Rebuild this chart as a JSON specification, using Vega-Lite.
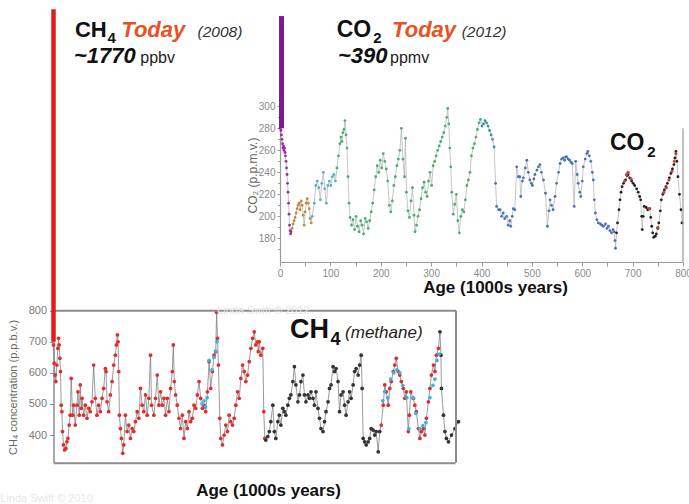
{
  "$schema": "https://vega.github.io/schema/vega-lite/v6.json",
  "width": 689,
  "height": 504,
  "padding": 0,
  "autosize": {"type": "none"},
  "background": "#ffffff",
  "config": {"view": {"stroke": null}, "font": "Liberation Sans", "axis": {"grid": false}},
  "datasets": {
    "co2": [
      {"age":0,"v":280,"s":"p"},{"age":2,"v":278,"s":"p"},{"age":3,"v":274,"s":"p"},{"age":4,"v":270,"s":"p"},{"age":5,"v":266,"s":"p"},{"age":6,"v":262,"s":"p"},{"age":7,"v":264,"s":"p"},{"age":8,"v":260,"s":"p"},{"age":9,"v":262,"s":"p"},{"age":10,"v":258,"s":"p"},{"age":11,"v":255,"s":"p"},{"age":12,"v":250,"s":"p"},{"age":13,"v":244,"s":"p"},{"age":14,"v":238,"s":"p"},{"age":15,"v":230,"s":"p"},{"age":16,"v":222,"s":"p"},{"age":17,"v":212,"s":"p"},{"age":18,"v":202,"s":"p"},{"age":19,"v":192,"s":"p"},{"age":20,"v":187,"s":"p"},{"age":21,"v":184,"s":"p"},{"age":22,"v":186,"s":"p"},
      {"age":24,"v":189,"s":"o"},{"age":26,"v":193,"s":"o"},{"age":28,"v":196,"s":"o"},{"age":30,"v":199,"s":"o"},{"age":32,"v":203,"s":"o"},{"age":34,"v":207,"s":"o"},{"age":36,"v":210,"s":"o"},{"age":38,"v":212,"s":"o"},{"age":40,"v":206,"s":"o"},{"age":42,"v":214,"s":"o"},{"age":44,"v":210,"s":"o"},{"age":46,"v":201,"s":"o"},{"age":48,"v":192,"s":"o"},{"age":50,"v":204,"s":"o"},{"age":52,"v":212,"s":"o"},{"age":54,"v":216,"s":"o"},{"age":56,"v":212,"s":"o"},{"age":58,"v":207,"s":"o"},{"age":60,"v":198,"s":"o"},{"age":62,"v":194,"s":"o"},
      {"age":64,"v":200,"s":"c"},{"age":68,"v":212,"s":"c"},{"age":71,"v":228,"s":"c"},{"age":74,"v":232,"s":"c"},{"age":77,"v":226,"s":"c"},{"age":80,"v":215,"s":"c"},{"age":83,"v":230,"s":"c"},{"age":86,"v":240,"s":"c"},{"age":89,"v":225,"s":"c"},{"age":92,"v":212,"s":"c"},{"age":95,"v":228,"s":"c"},{"age":98,"v":232,"s":"c"},{"age":101,"v":228,"s":"c"},{"age":104,"v":236,"s":"c"},{"age":107,"v":238,"s":"c"},{"age":110,"v":232,"s":"c"},
      {"age":113,"v":244,"s":"g"},{"age":116,"v":255,"s":"g"},{"age":119,"v":266,"s":"g"},{"age":121,"v":272,"s":"g"},{"age":123,"v":268,"s":"g"},{"age":125,"v":276,"s":"g"},{"age":127,"v":279,"s":"g"},{"age":129,"v":287,"s":"g"},{"age":131,"v":274,"s":"g"},{"age":133,"v":262,"s":"g"},{"age":135,"v":236,"s":"g"},{"age":137,"v":212,"s":"g"},{"age":139,"v":199,"s":"g"},{"age":142,"v":192,"s":"g"},{"age":145,"v":197,"s":"g"},{"age":148,"v":188,"s":"g"},{"age":151,"v":200,"s":"g"},{"age":154,"v":191,"s":"g"},{"age":157,"v":186,"s":"g"},{"age":160,"v":196,"s":"g"},{"age":163,"v":192,"s":"g"},{"age":166,"v":184,"s":"g"},{"age":169,"v":198,"s":"g"},{"age":172,"v":195,"s":"g"},{"age":175,"v":189,"s":"g"},{"age":178,"v":196,"s":"g"},{"age":181,"v":204,"s":"g"},{"age":184,"v":212,"s":"g"},{"age":187,"v":224,"s":"g"},{"age":190,"v":236,"s":"g"},{"age":193,"v":246,"s":"g"},{"age":196,"v":240,"s":"g"},{"age":199,"v":251,"s":"g"},{"age":202,"v":244,"s":"g"},{"age":205,"v":257,"s":"g"},{"age":208,"v":250,"s":"g"},{"age":211,"v":243,"s":"g"},{"age":214,"v":232,"s":"g"},{"age":217,"v":210,"s":"g"},{"age":220,"v":204,"s":"g"},{"age":223,"v":214,"s":"g"},{"age":226,"v":228,"s":"g"},{"age":229,"v":236,"s":"g"},{"age":232,"v":246,"s":"g"},{"age":235,"v":252,"s":"g"},{"age":238,"v":260,"s":"g"},{"age":241,"v":280,"s":"g"},{"age":244,"v":252,"s":"g"},{"age":247,"v":236,"s":"g"},{"age":249,"v":271,"s":"g"},{"age":251,"v":222,"s":"g"},{"age":254,"v":205,"s":"g"},{"age":257,"v":199,"s":"g"},{"age":260,"v":214,"s":"g"},{"age":263,"v":226,"s":"g"},{"age":266,"v":201,"s":"g"},{"age":268,"v":186,"s":"g"},{"age":271,"v":192,"s":"g"},{"age":274,"v":200,"s":"g"},{"age":277,"v":206,"s":"g"},{"age":280,"v":216,"s":"g"},{"age":283,"v":226,"s":"g"},{"age":286,"v":231,"s":"g"},{"age":289,"v":222,"s":"g"},{"age":292,"v":218,"s":"g"},{"age":295,"v":232,"s":"g"},{"age":298,"v":240,"s":"g"},{"age":301,"v":228,"s":"g"},{"age":304,"v":246,"s":"g"},{"age":307,"v":250,"s":"g"},{"age":310,"v":255,"s":"g"},{"age":313,"v":260,"s":"g"},{"age":316,"v":264,"s":"g"},{"age":319,"v":268,"s":"g"},{"age":322,"v":272,"s":"g"},{"age":325,"v":276,"s":"g"},{"age":328,"v":282,"s":"g"},{"age":331,"v":290,"s":"g"},{"age":333,"v":298,"s":"g"},{"age":335,"v":284,"s":"g"},{"age":337,"v":262,"s":"g"},{"age":339,"v":245,"s":"g"},{"age":341,"v":222,"s":"g"},{"age":344,"v":202,"s":"g"},{"age":347,"v":211,"s":"g"},{"age":350,"v":220,"s":"g"},{"age":353,"v":196,"s":"g"},{"age":356,"v":185,"s":"g"},{"age":359,"v":200,"s":"g"},{"age":362,"v":206,"s":"g"},{"age":365,"v":204,"s":"g"},{"age":368,"v":215,"s":"g"},{"age":371,"v":228,"s":"g"},{"age":374,"v":233,"s":"g"},{"age":377,"v":240,"s":"g"},{"age":380,"v":255,"s":"g"},{"age":383,"v":262,"s":"g"},{"age":386,"v":266,"s":"g"},{"age":389,"v":272,"s":"g"},{"age":392,"v":279,"s":"g"},{"age":395,"v":285,"s":"g"},{"age":398,"v":288,"s":"g"},
      {"age":401,"v":282,"s":"t"},{"age":404,"v":284,"s":"t"},{"age":407,"v":287,"s":"t"},{"age":410,"v":285,"s":"t"},{"age":413,"v":282,"s":"t"},{"age":416,"v":278,"s":"t"},{"age":419,"v":274,"s":"t"},{"age":422,"v":270,"s":"t"},{"age":425,"v":263,"s":"t"},
      {"age":428,"v":230,"s":"b"},{"age":430,"v":209,"s":"b"},{"age":434,"v":206,"s":"b"},{"age":437,"v":206,"s":"b"},{"age":440,"v":200,"s":"b"},{"age":443,"v":203,"s":"b"},{"age":446,"v":198,"s":"b"},{"age":450,"v":200,"s":"b"},{"age":453,"v":192,"s":"b"},{"age":456,"v":196,"s":"b"},{"age":458,"v":191,"s":"b"},{"age":461,"v":200,"s":"b"},{"age":463,"v":207,"s":"b"},{"age":466,"v":206,"s":"b"},{"age":470,"v":245,"s":"b"},{"age":473,"v":236,"s":"b"},{"age":476,"v":236,"s":"b"},{"age":478,"v":218,"s":"b"},{"age":481,"v":232,"s":"b"},{"age":483,"v":235,"s":"b"},{"age":487,"v":244,"s":"b"},{"age":490,"v":251,"s":"b"},{"age":493,"v":240,"s":"b"},{"age":496,"v":233,"s":"b"},{"age":499,"v":230,"s":"b"},{"age":501,"v":228,"s":"b"},{"age":504,"v":234,"s":"b"},{"age":506,"v":238,"s":"b"},{"age":510,"v":242,"s":"b"},{"age":513,"v":245,"s":"b"},{"age":516,"v":247,"s":"b"},{"age":519,"v":240,"s":"b"},{"age":523,"v":233,"s":"b"},{"age":527,"v":221,"s":"b"},{"age":531,"v":191,"s":"b"},{"age":534,"v":205,"s":"b"},{"age":536,"v":215,"s":"b"},{"age":539,"v":210,"s":"b"},{"age":542,"v":206,"s":"b"},{"age":546,"v":218,"s":"b"},{"age":549,"v":230,"s":"b"},{"age":553,"v":240,"s":"b"},{"age":556,"v":248,"s":"b"},{"age":559,"v":252,"s":"b"},{"age":562,"v":253,"s":"b"},{"age":565,"v":251,"s":"b"},{"age":567,"v":254,"s":"b"},{"age":569,"v":254,"s":"b"},{"age":572,"v":252,"s":"b"},{"age":575,"v":251,"s":"b"},{"age":578,"v":249,"s":"b"},{"age":580,"v":248,"s":"b"},{"age":584,"v":209,"s":"b"},{"age":587,"v":250,"s":"b"},{"age":590,"v":238,"s":"b"},{"age":592,"v":230,"s":"b"},{"age":595,"v":222,"s":"b"},{"age":597,"v":218,"s":"b"},{"age":600,"v":232,"s":"b"},{"age":602,"v":245,"s":"b"},{"age":606,"v":252,"s":"b"},{"age":609,"v":257,"s":"b"},{"age":611,"v":259,"s":"b"},{"age":614,"v":255,"s":"b"},{"age":617,"v":250,"s":"b"},{"age":620,"v":240,"s":"b"},{"age":622,"v":233,"s":"b"},{"age":624,"v":215,"s":"b"},{"age":626,"v":203,"s":"b"},{"age":629,"v":197,"s":"b"},{"age":632,"v":194,"s":"b"},{"age":636,"v":193,"s":"b"},{"age":639,"v":192,"s":"b"},{"age":642,"v":191,"s":"b"},{"age":646,"v":193,"s":"b"},{"age":649,"v":189,"s":"b"},{"age":652,"v":191,"s":"b"},{"age":655,"v":187,"s":"b"},{"age":658,"v":185,"s":"b"},{"age":661,"v":188,"s":"b"},{"age":663,"v":186,"s":"b"},{"age":665,"v":178,"s":"b"},{"age":666,"v":171,"s":"b"},
      {"age":668,"v":185,"s":"k"},{"age":670,"v":194,"s":"k"},{"age":673,"v":206,"s":"k"},{"age":675,"v":215,"s":"k"},{"age":677,"v":222,"s":"k"},{"age":679,"v":227,"s":"k"},{"age":682,"v":230,"s":"k"},{"age":686,"v":233,"s":"k"},{"age":689,"v":237,"s":"k"},{"age":691,"v":238,"s":"k"},{"age":694,"v":235,"s":"k"},{"age":698,"v":232,"s":"k"},{"age":701,"v":230,"s":"k"},{"age":704,"v":228,"s":"k"},{"age":708,"v":225,"s":"k"},{"age":711,"v":222,"s":"k"},{"age":714,"v":218,"s":"k"},{"age":716,"v":215,"s":"k"},{"age":718,"v":200,"s":"k"},{"age":719,"v":188,"s":"k"},{"age":721,"v":200,"s":"k"},{"age":723,"v":209,"s":"k"},{"age":727,"v":208,"s":"k"},{"age":730,"v":206,"s":"k"},{"age":734,"v":207,"s":"k"},{"age":736,"v":199,"s":"k"},{"age":738,"v":191,"s":"k"},{"age":740,"v":185,"s":"k"},{"age":742,"v":181,"s":"k"},{"age":745,"v":182,"s":"k"},{"age":747,"v":184,"s":"k"},{"age":750,"v":189,"s":"k"},{"age":752,"v":194,"s":"k"},{"age":755,"v":205,"s":"k"},{"age":757,"v":215,"s":"k"},{"age":760,"v":220,"s":"k"},{"age":763,"v":224,"s":"k"},{"age":766,"v":227,"s":"k"},{"age":769,"v":230,"s":"k"},{"age":773,"v":235,"s":"k"},{"age":776,"v":239,"s":"k"},{"age":779,"v":243,"s":"k"},{"age":782,"v":247,"s":"k"},{"age":784,"v":253,"s":"k"},{"age":786,"v":259,"s":"k"},{"age":788,"v":250,"s":"k"},{"age":790,"v":236,"s":"k"},{"age":793,"v":220,"s":"k"},{"age":796,"v":206,"s":"k"},{"age":798,"v":194,"s":"k"}
    ],
    "co2red": [
      {"age":684,"v":232},{"age":688,"v":238},{"age":691,"v":240},{"age":697,"v":234},{"age":733,"v":207},{"age":750,"v":190},{"age":762,"v":222},{"age":767,"v":226},{"age":772,"v":233},{"age":778,"v":241},{"age":783,"v":250},{"age":786,"v":257}
    ],
    "ch4": [
      {"age":0,"v":690,"s":"r"},{"age":1.3,"v":631,"s":"r"},{"age":3.3,"v":593,"s":"r"},{"age":4.7,"v":572,"s":"r"},{"age":6.7,"v":625,"s":"r"},{"age":8.7,"v":679,"s":"r"},{"age":10,"v":711,"s":"r"},{"age":11.3,"v":690,"s":"r"},{"age":12.7,"v":647,"s":"r"},{"age":14,"v":604,"s":"r"},{"age":15.3,"v":496,"s":"r"},{"age":16.7,"v":475,"s":"r"},{"age":18,"v":411,"s":"r"},{"age":20,"v":368,"s":"r"},{"age":22,"v":352,"s":"r"},{"age":24.7,"v":357,"s":"r"},{"age":26.7,"v":378,"s":"r"},{"age":28.7,"v":389,"s":"r"},{"age":31.3,"v":432,"s":"r"},{"age":33.3,"v":464,"s":"r"},{"age":35.3,"v":582,"s":"r"},{"age":38,"v":464,"s":"r"},{"age":40,"v":496,"s":"r"},{"age":43.3,"v":432,"s":"r"},{"age":46.7,"v":496,"s":"r"},{"age":48.7,"v":539,"s":"r"},{"age":51.3,"v":464,"s":"r"},{"age":53.3,"v":561,"s":"r"},{"age":55.3,"v":486,"s":"r"},{"age":56.7,"v":518,"s":"r"},{"age":60,"v":464,"s":"r"},{"age":63.3,"v":496,"s":"r"},{"age":66.7,"v":454,"s":"r"},{"age":70,"v":486,"s":"r"},{"age":73.3,"v":475,"s":"r"},{"age":76.7,"v":507,"s":"r"},{"age":80,"v":625,"s":"r"},{"age":83.3,"v":518,"s":"r"},{"age":86.7,"v":464,"s":"r"},{"age":90,"v":496,"s":"r"},{"age":93.3,"v":475,"s":"r"},{"age":96.7,"v":518,"s":"r"},{"age":100,"v":550,"s":"r"},{"age":103.3,"v":614,"s":"r"},{"age":104.7,"v":604,"s":"r"},{"age":106.7,"v":507,"s":"r"},{"age":110,"v":475,"s":"r"},{"age":113.3,"v":529,"s":"r"},{"age":116.7,"v":572,"s":"r"},{"age":120,"v":625,"s":"r"},{"age":123.3,"v":657,"s":"r"},{"age":125.3,"v":690,"s":"r"},{"age":127.3,"v":722,"s":"r"},{"age":128.7,"v":700,"s":"r"},{"age":130,"v":604,"s":"r"},{"age":131.3,"v":464,"s":"r"},{"age":133.3,"v":421,"s":"r"},{"age":135.3,"v":389,"s":"r"},{"age":138,"v":341,"s":"r"},{"age":140,"v":368,"s":"r"},{"age":143.3,"v":464,"s":"r"},{"age":146.7,"v":411,"s":"r"},{"age":150,"v":432,"s":"r"},{"age":153.3,"v":389,"s":"r"},{"age":156.7,"v":421,"s":"r"},{"age":160,"v":411,"s":"r"},{"age":163.3,"v":443,"s":"r"},{"age":166.7,"v":475,"s":"r"},{"age":170,"v":454,"s":"r"},{"age":173.3,"v":550,"s":"r"},{"age":176.7,"v":496,"s":"r"},{"age":180,"v":475,"s":"r"},{"age":183.3,"v":529,"s":"r"},{"age":186.7,"v":464,"s":"r"},{"age":190,"v":518,"s":"r"},{"age":193.3,"v":657,"s":"r"},{"age":195.3,"v":496,"s":"r"},{"age":200,"v":464,"s":"r"},{"age":203.3,"v":518,"s":"r"},{"age":206.7,"v":593,"s":"r"},{"age":210,"v":496,"s":"r"},{"age":213.3,"v":539,"s":"r"},{"age":216.7,"v":496,"s":"r"},{"age":220,"v":518,"s":"r"},{"age":223.3,"v":464,"s":"r"},{"age":226.7,"v":518,"s":"r"},{"age":230,"v":475,"s":"r"},{"age":233.3,"v":550,"s":"r"},{"age":236.7,"v":604,"s":"r"},{"age":238.7,"v":690,"s":"r"},{"age":240.7,"v":572,"s":"r"},{"age":243.3,"v":529,"s":"r"},{"age":246.7,"v":496,"s":"r"},{"age":250,"v":454,"s":"r"},{"age":253.3,"v":421,"s":"r"},{"age":256.7,"v":464,"s":"r"},{"age":260,"v":389,"s":"r"},{"age":263.3,"v":443,"s":"r"},{"age":266.7,"v":421,"s":"r"},{"age":270,"v":475,"s":"r"},{"age":273.3,"v":443,"s":"r"},{"age":276.7,"v":454,"s":"r"},{"age":280,"v":496,"s":"r"},{"age":283.3,"v":486,"s":"r"},{"age":286.7,"v":529,"s":"r"},{"age":290,"v":572,"s":"r"},{"age":293.3,"v":518,"s":"r"},{"age":296.7,"v":486,"s":"r"},{"age":300,"v":496,"s":"r"},{"age":303.3,"v":475,"s":"r"},{"age":306.7,"v":539,"s":"r"},{"age":310,"v":636,"s":"r"},{"age":313.3,"v":550,"s":"r"},{"age":316.7,"v":604,"s":"r"},{"age":320,"v":657,"s":"r"},{"age":323.3,"v":668,"s":"r"},{"age":325,"v":795,"s":"r"},{"age":326.7,"v":711,"s":"r"},{"age":328.7,"v":625,"s":"r"},{"age":331.3,"v":454,"s":"r"},{"age":333.3,"v":389,"s":"r"},{"age":336.7,"v":368,"s":"r"},{"age":340,"v":400,"s":"r"},{"age":343.3,"v":432,"s":"r"},{"age":346.7,"v":411,"s":"r"},{"age":350,"v":464,"s":"r"},{"age":353.3,"v":443,"s":"r"},{"age":356.7,"v":432,"s":"r"},{"age":360,"v":454,"s":"r"},{"age":363.3,"v":496,"s":"r"},{"age":366.7,"v":539,"s":"r"},{"age":370,"v":518,"s":"r"},{"age":373.3,"v":582,"s":"r"},{"age":376.7,"v":625,"s":"r"},{"age":380,"v":604,"s":"r"},{"age":383.3,"v":572,"s":"r"},{"age":386.7,"v":593,"s":"r"},{"age":390,"v":636,"s":"r"},{"age":393.3,"v":679,"s":"r"},{"age":396.7,"v":711,"s":"r"},{"age":400,"v":732,"s":"r"},{"age":403,"v":690,"s":"r"},{"age":406.7,"v":700,"s":"r"},{"age":408,"v":668,"s":"r"},{"age":410,"v":700,"s":"r"},{"age":413,"v":657,"s":"r"},{"age":417,"v":679,"s":"r"},{"age":419,"v":475,"s":"r"},{"age":421,"v":389,"s":"r"},
      {"age":423,"v":384,"s":"k"},{"age":427,"v":395,"s":"k"},{"age":430,"v":411,"s":"k"},{"age":433,"v":443,"s":"k"},{"age":437,"v":496,"s":"k"},{"age":440,"v":411,"s":"k"},{"age":443,"v":389,"s":"k"},{"age":447,"v":443,"s":"k"},{"age":450,"v":464,"s":"k"},{"age":453,"v":432,"s":"k"},{"age":457,"v":486,"s":"k"},{"age":460,"v":475,"s":"k"},{"age":463,"v":464,"s":"k"},{"age":467,"v":496,"s":"k"},{"age":470,"v":518,"s":"k"},{"age":473,"v":529,"s":"k"},{"age":477,"v":572,"s":"k"},{"age":480,"v":620,"s":"k"},{"age":483,"v":561,"s":"k"},{"age":487,"v":507,"s":"k"},{"age":490,"v":529,"s":"k"},{"age":493,"v":572,"s":"k"},{"age":497,"v":593,"s":"k"},{"age":500,"v":529,"s":"k"},{"age":503,"v":507,"s":"k"},{"age":507,"v":529,"s":"k"},{"age":510,"v":518,"s":"k"},{"age":513,"v":539,"s":"k"},{"age":517,"v":518,"s":"k"},{"age":520,"v":496,"s":"k"},{"age":523,"v":539,"s":"k"},{"age":527,"v":486,"s":"k"},{"age":530,"v":454,"s":"k"},{"age":533,"v":421,"s":"k"},{"age":537,"v":411,"s":"k"},{"age":540,"v":443,"s":"k"},{"age":543,"v":475,"s":"k"},{"age":547,"v":507,"s":"k"},{"age":550,"v":550,"s":"k"},{"age":553,"v":561,"s":"k"},{"age":557,"v":620,"s":"k"},{"age":560,"v":604,"s":"k"},{"age":563,"v":614,"s":"k"},{"age":567,"v":572,"s":"k"},{"age":570,"v":475,"s":"k"},{"age":573,"v":529,"s":"k"},{"age":577,"v":539,"s":"k"},{"age":580,"v":496,"s":"k"},{"age":583,"v":464,"s":"k"},{"age":587,"v":507,"s":"k"},{"age":590,"v":539,"s":"k"},{"age":593,"v":518,"s":"k"},{"age":597,"v":561,"s":"k"},{"age":600,"v":604,"s":"k"},{"age":603,"v":614,"s":"k"},{"age":607,"v":593,"s":"k"},{"age":610,"v":625,"s":"k"},{"age":613,"v":657,"s":"k"},{"age":615,"v":550,"s":"k"},{"age":617,"v":389,"s":"k"},{"age":620,"v":378,"s":"k"},{"age":623,"v":368,"s":"k"},{"age":627,"v":378,"s":"k"},{"age":630,"v":389,"s":"k"},{"age":633,"v":421,"s":"k"},{"age":637,"v":416,"s":"k"},{"age":640,"v":400,"s":"k"},{"age":643,"v":411,"s":"k"},{"age":647,"v":346,"s":"k"},{"age":650,"v":411,"s":"k"},
      {"age":653,"v":432,"s":"r"},{"age":657,"v":496,"s":"r"},{"age":660,"v":561,"s":"r"},{"age":663,"v":539,"s":"r"},{"age":667,"v":496,"s":"r"},{"age":670,"v":550,"s":"r"},{"age":673,"v":572,"s":"r"},{"age":677,"v":604,"s":"r"},{"age":680,"v":625,"s":"r"},{"age":683,"v":647,"s":"r"},{"age":687,"v":604,"s":"r"},{"age":690,"v":593,"s":"r"},{"age":693,"v":572,"s":"r"},{"age":697,"v":550,"s":"r"},{"age":700,"v":518,"s":"r"},{"age":703,"v":539,"s":"r"},{"age":707,"v":411,"s":"r"},{"age":709,"v":464,"s":"r"},{"age":712,"v":539,"s":"r"},{"age":717,"v":518,"s":"r"},{"age":720,"v":496,"s":"r"},{"age":723,"v":475,"s":"r"},{"age":727,"v":421,"s":"r"},{"age":730,"v":389,"s":"r"},{"age":733,"v":411,"s":"r"},{"age":737,"v":421,"s":"r"},{"age":740,"v":400,"s":"r"},{"age":743,"v":454,"s":"r"},{"age":747,"v":507,"s":"r"},{"age":750,"v":550,"s":"r"},{"age":753,"v":593,"s":"r"},{"age":757,"v":625,"s":"r"},{"age":760,"v":604,"s":"r"},{"age":763,"v":657,"s":"r"},{"age":767,"v":679,"s":"r"},
      {"age":770,"v":732,"s":"k"},{"age":772,"v":657,"s":"k"},{"age":773,"v":550,"s":"k"},{"age":777,"v":464,"s":"k"},{"age":780,"v":411,"s":"k"},{"age":783,"v":389,"s":"k"},{"age":787,"v":378,"s":"k"},{"age":793,"v":400,"s":"k"},{"age":800,"v":421,"s":"k"},{"age":807,"v":443,"s":"k"}
    ],
    "ch4cyan": [
      {"age":296,"v":500},{"age":300,"v":510},{"age":303,"v":490},{"age":306,"v":520},{"age":310,"v":640},{"age":316,"v":610},{"age":320,"v":650},{"age":323,"v":670},{"age":326,"v":700},
      {"age":656,"v":510},{"age":660,"v":540},{"age":666,"v":520},{"age":672,"v":580},{"age":678,"v":600},{"age":684,"v":610},{"age":690,"v":600},{"age":696,"v":560},{"age":704,"v":520},{"age":708,"v":420},{"age":716,"v":520},{"age":722,"v":470},{"age":730,"v":420},{"age":736,"v":430},{"age":742,"v":440},{"age":750,"v":520},{"age":756,"v":560},{"age":760,"v":580},{"age":764,"v":640},{"age":768,"v":660}
    ]
  },
  "layer": [
    {
      "layer": [
        {
          "layer": [
            {
              "data": {"name": "co2"},
              "mark": {"type": "line", "color": "#b8b8b8", "strokeWidth": 0.8},
              "encoding": {
                "x": {"field": "age", "type": "quantitative",
                  "scale": {"domain": [0, 800], "range": [280, 683], "zero": false, "nice": false},
                  "axis": {"orient": "bottom", "offset": -242, "values": [0,50,100,150,200,250,300,350,400,450,500,550,600,650,700,750,800],
                    "labelExpr": "datum.value % 100 == 0 ? datum.label : ''", "labelFlush": false, "labelOverlap": false,
                    "labelFontSize": 10, "labelColor": "#8a8a8a", "labelPadding": 2, "tickSize": 4, "tickColor": "#9a9a9a",
                    "domainColor": "#9a9a9a", "domainWidth": 1.2,
                    "title": "Age (1000s years)", "titleFontSize": 17, "titleFontWeight": "bold", "titleColor": "#111111",
                    "titleX": 495, "titleY": 25, "titleBaseline": "middle"}},
                "y": {"field": "v", "type": "quantitative",
                  "scale": {"domain": [158.5, 305], "range": [262, 100.8], "zero": false, "nice": false},
                  "axis": {"orient": "left", "offset": -280, "values": [180,200,220,240,260,280,300],
                    "labelFlush": false, "labelOverlap": false,
                    "labelFontSize": 10, "labelColor": "#8a8a8a", "labelPadding": 2, "tickSize": 3, "tickColor": "#9a9a9a",
                    "domainColor": "#9a9a9a", "domainWidth": 1.2,
                    "title": "CO₂ (p.p.m.v.)", "titleFontSize": 12, "titleFontWeight": "normal", "titleColor": "#666666",
                    "titleX": -28, "titleY": 175, "titleBaseline": "middle", "titleAngle": -90}}
              }
            },
            {
              "data": {"name": "co2"},
              "mark": {"type": "circle", "size": 8, "opacity": 1},
              "encoding": {
                "x": {"field": "age", "type": "quantitative"},
                "y": {"field": "v", "type": "quantitative"},
                "color": {"field": "s", "type": "nominal", "legend": null,
                  "scale": {"domain": ["p","o","c","g","t","b","k"], "range": ["#9b2c9b","#c08a40","#48b5c8","#45b06e","#3a8fb0","#4a72b5","#222222"]}}
              }
            },
            {
              "data": {"name": "co2red"},
              "mark": {"type": "circle", "size": 10, "opacity": 1, "color": "#d63a3a"},
              "encoding": {
                "x": {"field": "age", "type": "quantitative"},
                "y": {"field": "v", "type": "quantitative"}
              }
            },
            {
              "data": {"values": [{}]},
              "mark": {"type": "rule", "color": "#7b1c8e", "strokeWidth": 5},
              "encoding": {"x": {"datum": 3}, "y": {"datum": 280}, "y2": {"datum": 382}}
            },
            {
              "data": {"values": [{}]},
              "mark": {"type": "rule", "color": "#9a9a9a", "strokeWidth": 1.2},
              "encoding": {"x": {"datum": 800}, "y": {"datum": 158.5}, "y2": {"datum": 280}}
            },
            {
              "data": {"values": [{"t": "CO", "age": 112.6, "v": 363.3}]},
              "mark": {"type": "text", "align": "left", "baseline": "alphabetic", "fontSize": 23, "fontWeight": "bold", "color": "#111111"},
              "encoding": {"x": {"field": "age", "type": "quantitative"}, "y": {"field": "v", "type": "quantitative"}, "text": {"field": "t"}}
            },
            {
              "data": {"values": [{"t": "2", "age": 185, "v": 357.3}]},
              "mark": {"type": "text", "align": "left", "baseline": "alphabetic", "fontSize": 15, "fontWeight": "bold", "color": "#111111"},
              "encoding": {"x": {"field": "age", "type": "quantitative"}, "y": {"field": "v", "type": "quantitative"}, "text": {"field": "t"}}
            },
            {
              "data": {"values": [{"t": "Today", "age": 222.5, "v": 363.3}]},
              "mark": {"type": "text", "align": "left", "baseline": "alphabetic", "fontSize": 22, "fontWeight": "bold", "fontStyle": "italic", "color": "#e8521f"},
              "encoding": {"x": {"field": "age", "type": "quantitative"}, "y": {"field": "v", "type": "quantitative"}, "text": {"field": "t"}}
            },
            {
              "data": {"values": [{"t": "(2012)", "age": 360.7, "v": 363.3}]},
              "mark": {"type": "text", "align": "left", "baseline": "alphabetic", "fontSize": 15.5, "fontStyle": "italic", "color": "#333333"},
              "encoding": {"x": {"field": "age", "type": "quantitative"}, "y": {"field": "v", "type": "quantitative"}, "text": {"field": "t"}}
            },
            {
              "data": {"values": [{"t": "~390", "age": 115, "v": 339.1}]},
              "mark": {"type": "text", "align": "left", "baseline": "alphabetic", "fontSize": 22, "fontWeight": "bold", "fontStyle": "italic", "color": "#111111"},
              "encoding": {"x": {"field": "age", "type": "quantitative"}, "y": {"field": "v", "type": "quantitative"}, "text": {"field": "t"}}
            },
            {
              "data": {"values": [{"t": "ppmv", "age": 218.4, "v": 339.1}]},
              "mark": {"type": "text", "align": "left", "baseline": "alphabetic", "fontSize": 16, "color": "#222222"},
              "encoding": {"x": {"field": "age", "type": "quantitative"}, "y": {"field": "v", "type": "quantitative"}, "text": {"field": "t"}}
            },
            {
              "data": {"values": [{"t": "CO", "age": 655, "v": 260}]},
              "mark": {"type": "text", "align": "left", "baseline": "alphabetic", "fontSize": 23, "fontWeight": "bold", "color": "#111111"},
              "encoding": {"x": {"field": "age", "type": "quantitative"}, "y": {"field": "v", "type": "quantitative"}, "text": {"field": "t"}}
            },
            {
              "data": {"values": [{"t": "2", "age": 729, "v": 254}]},
              "mark": {"type": "text", "align": "left", "baseline": "alphabetic", "fontSize": 15, "fontWeight": "bold", "color": "#111111"},
              "encoding": {"x": {"field": "age", "type": "quantitative"}, "y": {"field": "v", "type": "quantitative"}, "text": {"field": "t"}}
            }
          ]
        },
        {
          "data": {"name": "co2"},
          "mark": {"type": "point", "opacity": 0},
          "encoding": {
            "x": {"field": "age", "type": "quantitative"},
            "y": {"field": "v", "type": "quantitative",
              "axis": {"orient": "left", "offset": -280, "values": [170,180,190,200,210,220,230,240,250,260,270,280,290,300],
                "labels": false, "domain": false, "tickSize": 2.5, "tickColor": "#9a9a9a", "title": null}}
          }
        }
      ],
      "resolve": {"axis": {"y": "independent"}}
    },
    {
      "layer": [
        {
          "data": {"name": "ch4"},
          "mark": {"type": "line", "color": "#808080", "strokeWidth": 0.8},
          "encoding": {
            "x": {"field": "age", "type": "quantitative",
              "scale": {"domain": [0, 800], "range": [53.5, 455], "zero": false, "nice": false},
              "axis": {"orient": "bottom", "offset": -41.3, "labels": false, "ticks": false,
                "domainColor": "#8c8c8c", "domainWidth": 2,
                "title": "Age (1000s years)", "titleFontSize": 17, "titleFontWeight": "bold", "titleColor": "#111111",
                "titleX": 268, "titleY": 28, "titleBaseline": "middle"}},
            "y": {"field": "v", "type": "quantitative",
              "scale": {"domain": [311, 800], "range": [462.7, 310.7], "zero": false, "nice": false},
              "axis": {"orient": "left", "offset": -53.5, "values": [400, 500, 600, 700, 800],
                "labelFlush": false, "labelOverlap": false,
                "labelFontSize": 11, "labelColor": "#7a7a7a", "labelPadding": 3, "tickSize": 4, "tickColor": "#8c8c8c",
                "domainColor": "#8c8c8c", "domainWidth": 1.5,
                "title": "CH₄ concentration (p.p.b.v.)", "titleFontSize": 11, "titleFontWeight": "normal", "titleColor": "#666666",
                "titleX": -40.5, "titleY": 387, "titleBaseline": "middle", "titleAngle": -90}}
          }
        },
        {
          "data": {"name": "ch4"},
          "mark": {"type": "circle", "size": 14, "opacity": 1},
          "encoding": {
            "x": {"field": "age", "type": "quantitative"},
            "y": {"field": "v", "type": "quantitative"},
            "color": {"field": "s", "type": "nominal", "legend": null,
              "scale": {"domain": ["r", "k"], "range": ["#e32b2b", "#333333"]}}
          }
        },
        {
          "data": {"name": "ch4cyan"},
          "mark": {"type": "circle", "size": 14, "opacity": 1, "color": "#33b5e5"},
          "encoding": {
            "x": {"field": "age", "type": "quantitative"},
            "y": {"field": "v", "type": "quantitative"}
          }
        },
        {
          "data": {"values": [{}]},
          "mark": {"type": "rule", "color": "#8c8c8c", "strokeWidth": 2},
          "encoding": {"x": {"datum": 0}, "x2": {"datum": 802}, "y": {"datum": 800}}
        },
        {
          "data": {"values": [{}]},
          "mark": {"type": "rule", "color": "#8c8c8c", "strokeWidth": 2},
          "encoding": {"x": {"datum": 802}, "y": {"datum": 311}, "y2": {"datum": 800}}
        },
        {
          "data": {"values": [{}]},
          "mark": {"type": "rule", "color": "#e41b1b", "strokeWidth": 4.5},
          "encoding": {"x": {"datum": 0}, "y": {"datum": 700}, "y2": {"datum": 1770}}
        },
        {
          "data": {"values": [{"t": "Linda Swift © 2012", "age": 326, "v": 789}, {"t": "Linda Swift © 2010", "age": -106, "v": 185}]},
          "mark": {"type": "text", "align": "left", "baseline": "alphabetic", "fontSize": 11, "color": "#e6e6e6"},
          "encoding": {"x": {"field": "age", "type": "quantitative"}, "y": {"field": "v", "type": "quantitative"}, "text": {"field": "t"}}
        },
        {
          "data": {"values": [{"t": "CH", "age": 42.8, "v": 1681.5}]},
          "mark": {"type": "text", "align": "left", "baseline": "alphabetic", "fontSize": 22, "fontWeight": "bold", "color": "#111111"},
          "encoding": {"x": {"field": "age", "type": "quantitative"}, "y": {"field": "v", "type": "quantitative"}, "text": {"field": "t"}}
        },
        {
          "data": {"values": [{"t": "4", "age": 107.8, "v": 1660}]},
          "mark": {"type": "text", "align": "left", "baseline": "alphabetic", "fontSize": 15, "fontWeight": "bold", "color": "#111111"},
          "encoding": {"x": {"field": "age", "type": "quantitative"}, "y": {"field": "v", "type": "quantitative"}, "text": {"field": "t"}}
        },
        {
          "data": {"values": [{"t": "Today", "age": 135, "v": 1681.5}]},
          "mark": {"type": "text", "align": "left", "baseline": "alphabetic", "fontSize": 22, "fontWeight": "bold", "fontStyle": "italic", "color": "#e8521f"},
          "encoding": {"x": {"field": "age", "type": "quantitative"}, "y": {"field": "v", "type": "quantitative"}, "text": {"field": "t"}}
        },
        {
          "data": {"values": [{"t": "(2008)", "age": 287, "v": 1681.5}]},
          "mark": {"type": "text", "align": "left", "baseline": "alphabetic", "fontSize": 15.5, "fontStyle": "italic", "color": "#333333"},
          "encoding": {"x": {"field": "age", "type": "quantitative"}, "y": {"field": "v", "type": "quantitative"}, "text": {"field": "t"}}
        },
        {
          "data": {"values": [{"t": "~1770", "age": 40.8, "v": 1596}]},
          "mark": {"type": "text", "align": "left", "baseline": "alphabetic", "fontSize": 22, "fontWeight": "bold", "fontStyle": "italic", "color": "#111111"},
          "encoding": {"x": {"field": "age", "type": "quantitative"}, "y": {"field": "v", "type": "quantitative"}, "text": {"field": "t"}}
        },
        {
          "data": {"values": [{"t": "ppbv", "age": 173, "v": 1596}]},
          "mark": {"type": "text", "align": "left", "baseline": "alphabetic", "fontSize": 16, "color": "#222222"},
          "encoding": {"x": {"field": "age", "type": "quantitative"}, "y": {"field": "v", "type": "quantitative"}, "text": {"field": "t"}}
        },
        {
          "data": {"values": [{"t": "CH", "age": 471, "v": 712}]},
          "mark": {"type": "text", "align": "left", "baseline": "alphabetic", "fontSize": 27, "fontWeight": "bold", "color": "#111111"},
          "encoding": {"x": {"field": "age", "type": "quantitative"}, "y": {"field": "v", "type": "quantitative"}, "text": {"field": "t"}}
        },
        {
          "data": {"values": [{"t": "4", "age": 552, "v": 690}]},
          "mark": {"type": "text", "align": "left", "baseline": "alphabetic", "fontSize": 18, "fontWeight": "bold", "color": "#111111"},
          "encoding": {"x": {"field": "age", "type": "quantitative"}, "y": {"field": "v", "type": "quantitative"}, "text": {"field": "t"}}
        },
        {
          "data": {"values": [{"t": "(methane)", "age": 581, "v": 712}]},
          "mark": {"type": "text", "align": "left", "baseline": "alphabetic", "fontSize": 17, "fontStyle": "italic", "color": "#222222"},
          "encoding": {"x": {"field": "age", "type": "quantitative"}, "y": {"field": "v", "type": "quantitative"}, "text": {"field": "t"}}
        }
      ]
    }
  ],
  "resolve": {
    "scale": {"x": "independent", "y": "independent", "color": "independent"},
    "axis": {"x": "independent", "y": "independent"}
  }
}
